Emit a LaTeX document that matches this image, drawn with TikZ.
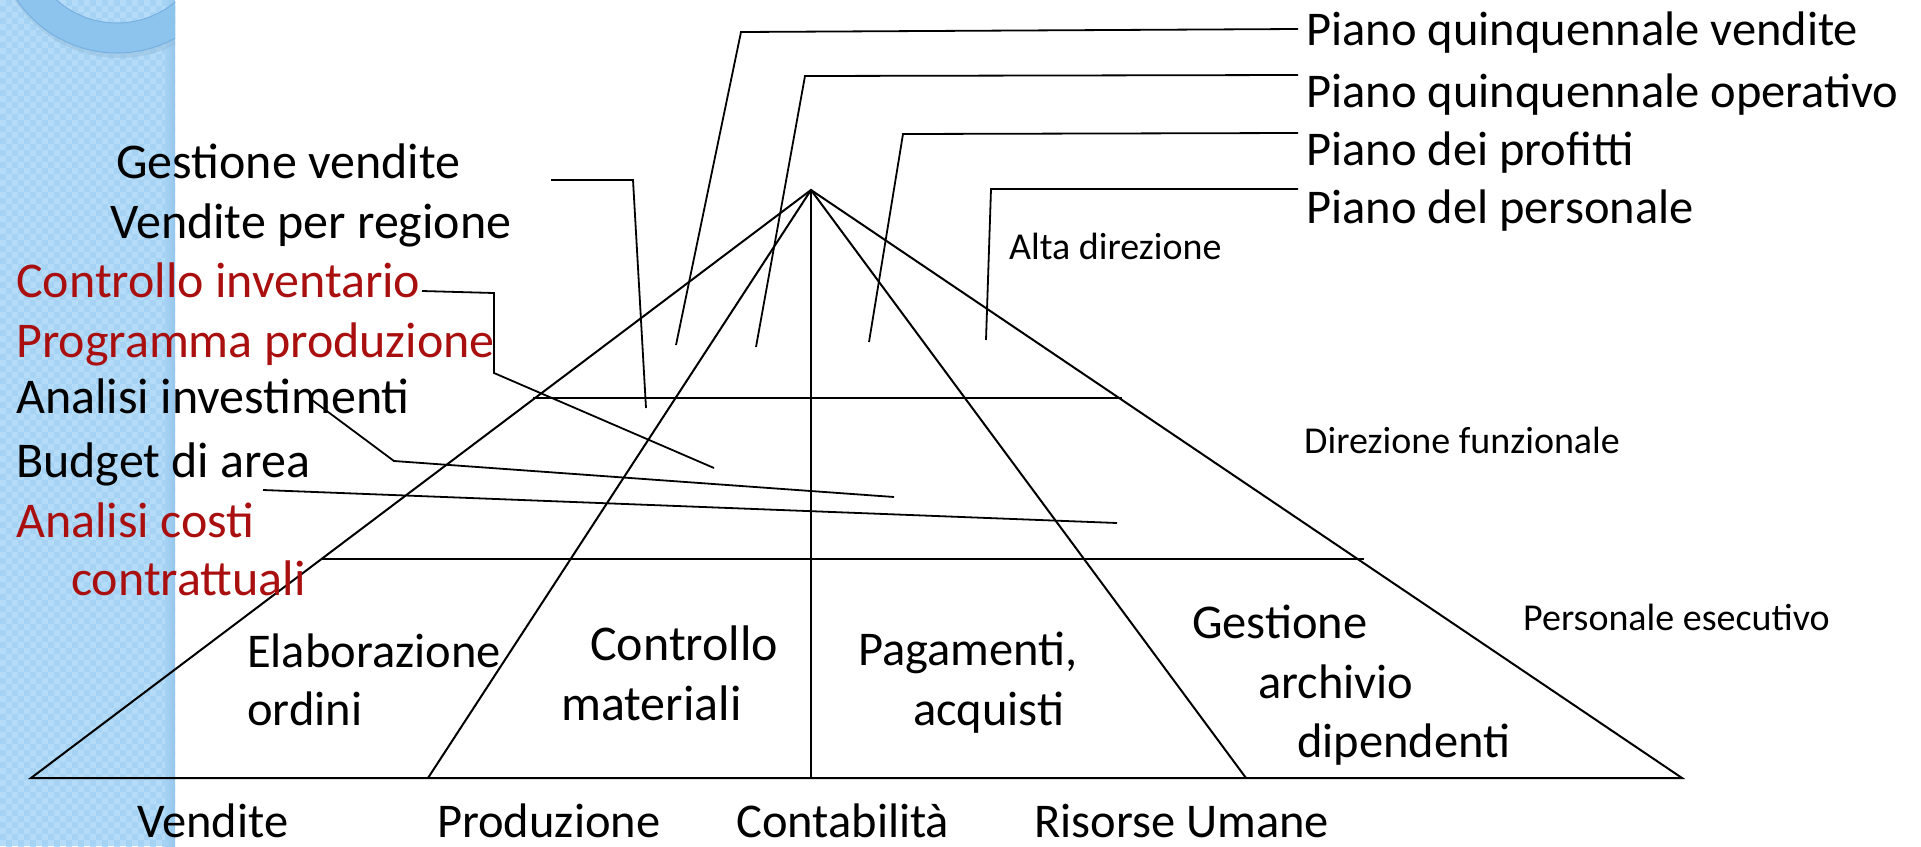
\documentclass[tikz,border=0pt]{standalone}
\usepackage{fontspec}
\setmainfont{Carlito}
\definecolor{stripblue}{HTML}{A6D3F3}
\definecolor{checkblue}{HTML}{B4DBF7}
\definecolor{stripedge}{HTML}{95C6EC}
\definecolor{ringblue}{HTML}{8CC4EE}
\definecolor{ringedge}{HTML}{78B0E0}
\definecolor{ringshadow}{HTML}{90B8D8}
\definecolor{darkred}{HTML}{AA0F0F}
\tikzset{
  big/.style={anchor=base west, inner sep=0pt, font=\fontsize{48.5}{58}\selectfont},
  bigl/.style={anchor=base west, inner sep=0pt, font=\fontsize{50}{60}\selectfont},
  small/.style={anchor=base west, inner sep=0pt, font=\fontsize{38}{46}\selectfont},
  redtxt/.style={text=darkred},
  edge/.style={line width=2pt, line join=miter},
  leader/.style={line width=1.8pt}
}
\begin{document}
\begin{tikzpicture}[x=1pt,y=-1pt]
\useasboundingbox (0,0) rectangle (1921,846);
\fill[white] (0,0) rectangle (1921,846);
% decorative strip
\begin{scope}
\clip (0,0) rectangle (175,846);
\fill[stripblue] (0,0) rectangle (175,846);
\foreach \i in {0,...,14} {
  \foreach \j in {0,...,70} {
    \fill[checkblue] (\i*12,\j*12) rectangle ++(6,6);
    \fill[checkblue] (\i*12+6,\j*12+6) rectangle ++(6,6);
  }
}
\shade[left color=stripblue, right color=stripedge] (165,0) rectangle (175,846);
\fill[ringshadow, opacity=0.4, even odd rule] (119,-65) circle (123pt) (119,-65) circle (91pt);
\fill[ringblue, even odd rule] (117,-68) circle (121pt) (117,-68) circle (91pt);
\draw[ringedge, line width=1pt] (117,-68) circle (121pt);
\draw[ringedge, line width=1pt] (117,-68) circle (91pt);
\end{scope}

% pyramid points
\coordinate (A) at (811,190);
\coordinate (BL) at (31,778);
\coordinate (BR) at (1682,778);
\coordinate (P1) at (428,778);
\coordinate (P2) at (811,778);
\coordinate (P3) at (1246,778);
\coordinate (H1l) at (533,398);
\coordinate (H1r) at (1122,398);
\coordinate (H2l) at (322,559);
\coordinate (H2r) at (1364,559);

\draw[edge] (BL) -- (A) -- (BR) -- cycle;
\draw[edge] (A) -- (P1);
\draw[edge] (A) -- (P2);
\draw[edge] (A) -- (P3);
\draw[edge] (H1l) -- (H1r);
\draw[edge] (H2l) -- (H2r);

% right labels
\node[big] (pqv) at (1306,45) {Piano quinquennale vendite};
\node[big] (pqo) at (1306,107) {Piano quinquennale operativo};
\node[big] (pdp) at (1306,165) {Piano dei profitti};
\node[big] (pdl) at (1306,223) {Piano del personale};

% left labels
\node[bigl] (gv) at (116,178) {Gestione vendite};
\node[bigl] (vpr) at (110,238) {Vendite per regione};
\node[bigl, redtxt] (ci) at (16,297) {Controllo inventario};
\node[bigl, redtxt] (pp) at (16,357) {Programma produzione};
\node[bigl] (ai) at (16,413) {Analisi investimenti};
\node[bigl] (bda) at (16,477) {Budget di area};
\node[bigl, redtxt] (ac1) at (16,537) {Analisi costi};
\node[bigl, redtxt] (ac2) at (71,595) {contrattuali};

% bottom-level labels
\node[big] (el1) at (247,667) {Elaborazione};
\node[big] (el2) at (247,725) {ordini};
\node[bigl] (cm1) at (590,660) {Controllo};
\node[bigl] (cm2) at (561,720) {materiali};
\node[big] (pa1) at (858,665) {Pagamenti,};
\node[big] (pa2) at (913,725) {acquisti};
\node[big] (ga1) at (1192,638) {Gestione};
\node[big] (ga2) at (1258,698) {archivio};
\node[big] (ga3) at (1297,757) {dipendenti};

% functions
\node[big] (fv) at (137,837) {Vendite};
\node[big] (fp) at (437,837) {Produzione};
\node[big] (fc) at (736,837) {Contabilità};
\node[big] (fr) at (1034,837) {Risorse Umane};

% levels
\node[small] (ad) at (1009,259) {Alta direzione};
\node[small] (df) at (1304,453) {Direzione funzionale};
\node[small] (pe) at (1523,630) {Personale esecutivo};

% leader coordinates (top)
\coordinate (a1) at (676,345); \coordinate (a2) at (741,32); \coordinate (a3) at (1298,29);
\coordinate (b1) at (756,347); \coordinate (b2) at (805,76); \coordinate (b3) at (1298,75);
\coordinate (c1) at (869,342); \coordinate (c2) at (903,134); \coordinate (c3) at (1298,133);
\coordinate (d1) at (986,340); \coordinate (d2) at (991,189); \coordinate (d3) at (1298,189);
\draw[leader] (a1) -- (a2) -- (a3);
\draw[leader] (b1) -- (b2) -- (b3);
\draw[leader] (c1) -- (c2) -- (c3);
\draw[leader] (d1) -- (d2) -- (d3);

% leader coordinates (left)
\coordinate (e1) at (551,180); \coordinate (e2) at (633,180); \coordinate (e3) at (646,408);
\coordinate (f1) at (422,291); \coordinate (f2) at (494,293); \coordinate (f3) at (494,373); \coordinate (f4) at (714,468);
\coordinate (g1) at (312,400); \coordinate (g2) at (394,461); \coordinate (g3) at (894,497);
\coordinate (h1) at (263,490); \coordinate (h2) at (1117,523);
\draw[leader] (e1) -- (e2) -- (e3);
\draw[leader] (f1) -- (f2) -- (f3) -- (f4);
\draw[leader] (g1) -- (g2) -- (g3);
\draw[leader] (h1) -- (h2);
\end{tikzpicture}
\end{document}
